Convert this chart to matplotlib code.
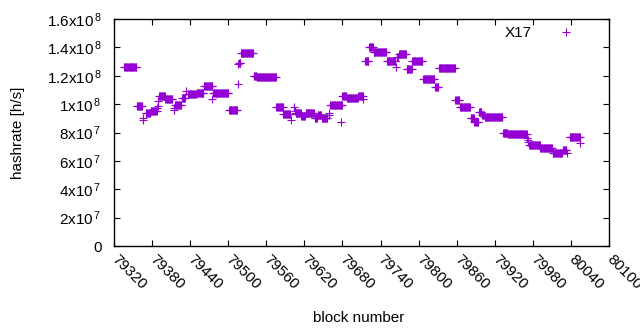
import numpy as np
import matplotlib
matplotlib.use("Agg")
import matplotlib.pyplot as plt

plt.rcParams["font.family"] = ["Liberation Sans", "DejaVu Sans"]
plt.rcParams["mathtext.fontset"] = "custom"
plt.rcParams["mathtext.rm"] = "Liberation Sans"
plt.rcParams["mathtext.it"] = "Liberation Sans"
plt.rcParams["mathtext.bf"] = "Liberation Sans"

# runs of blocks with a constant hashrate: first block, last block, rate (x1e8 h/s)
run_start = [79336, 79356, 79370, 79378, 79391, 79401, 79416, 79427, 79436, 79450,
             79462, 79476, 79501, 79517, 79520, 79540, 79545, 79576, 79587, 79606,
             79615, 79622, 79636, 79641, 79647, 79661, 79680, 79687, 79705, 79716,
             79722, 79729, 79750, 79766, 79769, 79781, 79790, 79807, 79826, 79832,
             79858, 79865, 79882, 79888, 79895, 79900, 79904, 79933, 79941, 79974,
             79992, 80011, 80027, 80038]
run_end = [79355, 79364, 79377, 79387, 79400, 79412, 79426, 79432, 79449, 79461,
           79475, 79500, 79514, 79519, 79539, 79544, 79575, 79586, 79598, 79614,
           79621, 79635, 79640, 79646, 79656, 79679, 79686, 79704, 79712, 79721,
           79728, 79749, 79763, 79768, 79780, 79789, 79806, 79825, 79831, 79857,
           79864, 79881, 79887, 79894, 79899, 79903, 79932, 79940, 79970, 79991,
           80010, 80026, 80033, 80053]
run_rate = [1.265, 0.984, 0.935, 0.951, 1.06, 1.033, 0.995, 1.04, 1.068, 1.075,
            1.125, 1.075, 0.956, 1.29, 1.357, 1.195, 1.188, 0.977, 0.928, 0.935,
            0.918, 0.935, 0.90, 0.925, 0.90, 0.991, 1.055, 1.045, 1.06, 1.307,
            1.40, 1.364, 1.305, 1.33, 1.352, 1.25, 1.303, 1.18, 1.118, 1.258,
            1.026, 0.977, 0.90, 0.876, 0.945, 0.92, 0.907, 0.80, 0.79, 0.712,
            0.688, 0.654, 0.677, 0.766]

# single blocks off the runs
single_block = [79365, 79366, 79388, 79389, 79390, 79414, 79415, 79434, 79474, 79515,
                79516, 79599, 79604, 79605, 79658, 79659, 79678, 79713, 79764, 79971,
                79972, 79973, 80034, 80054, 80054]
single_rate = [0.905, 0.885, 0.97, 0.99, 1.02, 0.975, 0.96, 1.09, 1.035, 1.139,
               1.28, 0.888, 0.98, 0.95, 0.937, 0.925, 0.872, 1.035, 1.263, 0.76,
               0.745, 0.73, 0.654, 0.77, 0.724]

x_ticks = [79320, 79380, 79440, 79500, 79560, 79620, 79680, 79740, 79800,
           79860, 79920, 79980, 80040, 80100]
y_ticks = [0, 2e7, 4e7, 6e7, 8e7, 1e8, 1.2e8, 1.4e8, 1.6e8]
y_tick_labels = ["0", "2x10$^{\\,7}$", "4x10$^{\\,7}$", "6x10$^{\\,7}$", "8x10$^{\\,7}$",
                 "1x10$^{\\,8}$", "1.2x10$^{\\,8}$", "1.4x10$^{\\,8}$", "1.6x10$^{\\,8}$"]

blocks = []
rates = []
for s, e, r in zip(run_start, run_end, run_rate):
    for b in range(s, e + 1):
        blocks.append(b)
        rates.append(r * 1e8)
blocks += single_block
rates += [r * 1e8 for r in single_rate]

fig = plt.figure(figsize=(6.4, 3.3), dpi=100)
ax = fig.add_axes([114 / 640, 1 - 246 / 330, (609 - 114) / 640, (246 - 19) / 330])

ax.plot(blocks, rates, linestyle="none", marker="+", markersize=5.2,
        markeredgewidth=0.8, color="#9400d3", label="X17")

ax.set_xlim(79320, 80100)
ax.set_ylim(0, 1.6e8)
ax.set_xticks(x_ticks)
ax.set_xticklabels([str(t) for t in x_ticks], rotation=-45, ha="left", va="center",
                   rotation_mode="anchor")
ax.set_yticks(y_ticks)
ax.set_yticklabels(y_tick_labels)
ax.tick_params(direction="in", length=4, width=0.8, top=True, right=True,
               labelsize=11, color="black")
ax.tick_params(axis="y", pad=9)
ax.tick_params(axis="x", pad=8)
for sp in ax.spines.values():
    sp.set_linewidth(1.0)

ax.set_xlabel("block number", fontsize=11)
ax.xaxis.set_label_coords(0.495, -0.285)
ax.set_ylabel("hashrate [h/s]", fontsize=11)
ax.yaxis.set_label_coords(-0.18, 0.5)

ax.legend(loc="upper right", bbox_to_anchor=(0.958, 1.0), markerfirst=False,
          frameon=False, fontsize=11, handlelength=2.0, handletextpad=1.25,
          borderaxespad=0.15, borderpad=0.3)

fig.savefig("out.png", dpi=100)
